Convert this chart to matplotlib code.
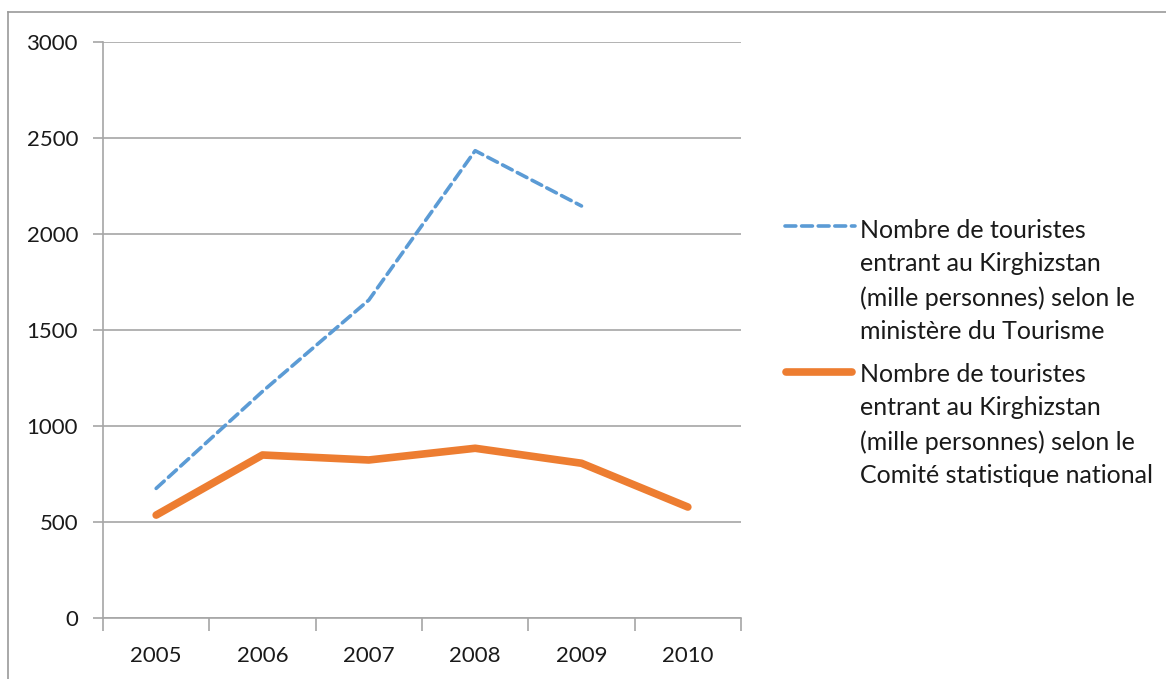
import matplotlib
matplotlib.use("Agg")
import matplotlib.pyplot as plt
from matplotlib.lines import Line2D
import numpy as np

years = ["2005", "2006", "2007", "2008", "2009", "2010"]
ministere = [675, 1180, 1656, 2434, 2146, np.nan]
comite = [536, 849, 823, 884, 806, 578]
label_min = "Nombre de touristes\nentrant au Kirghizstan\n(mille personnes) selon le\nministère du Tourisme"
label_com = "Nombre de touristes\nentrant au Kirghizstan\n(mille personnes) selon le\nComité statistique national"
yticks = [0, 500, 1000, 1500, 2000, 2500, 3000]

plt.rcParams['font.family'] = ['Lato', 'DejaVu Sans']
W, H = 1166, 679
fig = plt.figure(figsize=(W/100, H/100), dpi=100)
ax = fig.add_axes([103/W, 1-618/H, (741-103)/W, (618-42)/H])

grid_c = "#a6a6a6"
blue = "#5b9bd5"
orange = "#ed7d31"
txt_c = "#1a1a1a"

x = np.arange(len(years))
ax.plot(x, ministere, color=blue, lw=2.6, dashes=(3.0, 1.6), dash_capstyle='round')
ax.plot(x, comite, color=orange, lw=5.5, solid_capstyle='round', solid_joinstyle='round')

ax.set_xlim(-0.5, len(years)-0.5)
ax.set_ylim(0, 3000)
ax.set_yticks(yticks)
ax.set_yticklabels([str(v) for v in yticks], fontsize=16, color=txt_c)
ax.yaxis.grid(True, color=grid_c, lw=1.2)
ax.set_axisbelow(True)
ax.tick_params(axis='y', length=7, color=grid_c, width=1.2, pad=11)
ax.set_xticks(x)
ax.set_xticklabels(years, fontsize=16, color=txt_c)
ax.tick_params(axis='x', length=0, pad=20)
ax.set_xticks(np.arange(-0.5, len(years)), minor=True)
ax.tick_params(axis='x', which='minor', length=9, color=grid_c, width=1.2)
for s in ['top', 'right']:
    ax.spines[s].set_visible(False)
for s in ['left', 'bottom']:
    ax.spines[s].set_color(grid_c)
    ax.spines[s].set_linewidth(1.2)

# legend
fig.add_artist(Line2D([785/W, 855/W], [1-226/H, 1-226/H], color=blue, lw=2.6, dashes=(3.0, 1.6), dash_capstyle='round'))
fig.add_artist(Line2D([786/W, 852/W], [1-372/H, 1-372/H], color=orange, lw=5.5, solid_capstyle='round'))
fig.text(860/W, 1-219/H, label_min, fontsize=18, va='top', ha='left', color=txt_c, linespacing=1.55)
fig.text(860/W, 1-363/H, label_com, fontsize=18, va='top', ha='left', color=txt_c, linespacing=1.55)

# outer border
fig.add_artist(Line2D([8/W, 1], [1-12/H, 1-12/H], color="#9a9a9a", lw=1.2))
fig.add_artist(Line2D([8/W, 8/W], [0, 1-12/H], color="#9a9a9a", lw=1.2))

fig.savefig("out.png", dpi=100, facecolor="white")
